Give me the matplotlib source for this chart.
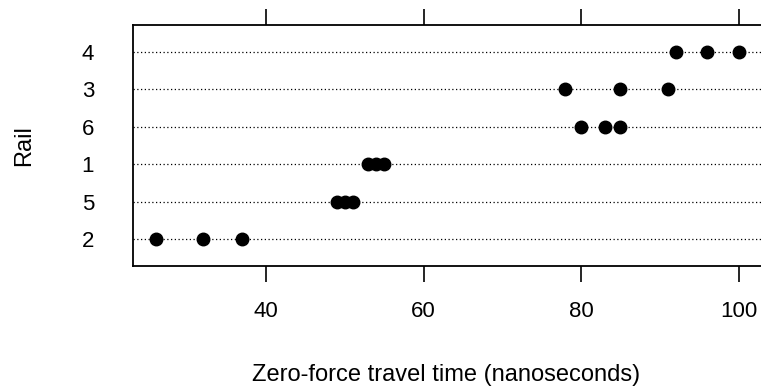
import matplotlib
matplotlib.use("Agg")
import matplotlib.pyplot as plt

rails = ["2", "5", "1", "6", "3", "4"]
travel = {
    "2": [26, 32, 37],
    "5": [49, 50, 51],
    "1": [53, 54, 55],
    "6": [80, 83, 85],
    "3": [78, 85, 91],
    "4": [92, 96, 100],
}
xticks = [40, 60, 80, 100]

plt.rcParams['font.family'] = ['Liberation Sans', 'DejaVu Sans']

fig = plt.figure(figsize=(7.61, 3.90), dpi=100)
ax = fig.add_axes([133/761, 1 - 266/390, 1 - 133/761, (266 - 25)/390])

for i, r in enumerate(rails, start=1):
    ax.axhline(i, color='black', linestyle=(0, (1, 2)), linewidth=0.9, zorder=1)
    ax.plot(travel[r], [i] * len(travel[r]), 'o', color='black', markersize=9, zorder=3)

ax.set_xlim(23.1, 102.85)
ax.set_ylim(0.28, 6.72)
ax.set_yticks(range(1, len(rails) + 1))
ax.set_yticklabels(rails, fontsize=16)
ax.set_xticks(xticks)
ax.set_xticklabels([str(t) for t in xticks], fontsize=16)
ax.tick_params(axis='y', length=0, pad=28)
ax.tick_params(axis='x', direction='out', length=11.5, width=1.2, top=True, labeltop=False, pad=14)
ax.spines['right'].set_visible(False)
for s in ['left', 'top', 'bottom']:
    ax.spines[s].set_linewidth(1.3)

fig.text(446/761, 1 - 375/390, "Zero-force travel time (nanoseconds)", ha='center', va='center', fontsize=17)
fig.text(24/761, 1 - 146/390, "Rail", ha='center', va='center', rotation=90, fontsize=17)

fig.savefig("out.png", dpi=100)
